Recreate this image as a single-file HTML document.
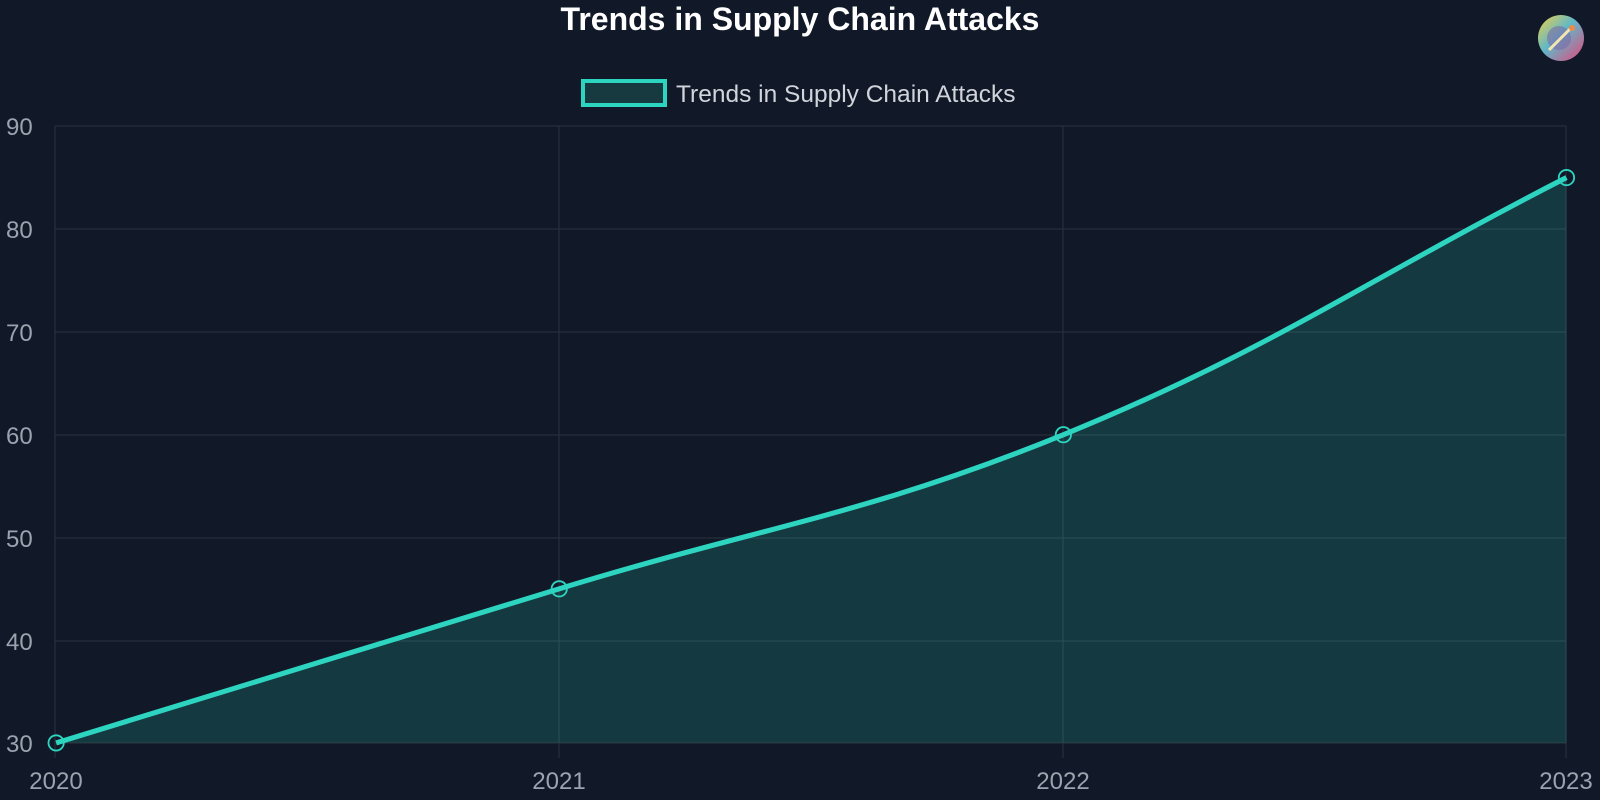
<!DOCTYPE html>
<html><head><style>
html,body{margin:0;padding:0;background:#111827;}
svg{display:block;font-family:"Liberation Sans",sans-serif;}
</style></head><body>
<svg width="1600" height="800" viewBox="0 0 1600 800">
<defs>
<linearGradient id="g" x1="0" y1="0" x2="1" y2="1">
<stop offset="0" stop-color="#f5d142"/><stop offset="0.45" stop-color="#5fb8c9"/><stop offset="1" stop-color="#e8457a"/>
</linearGradient>
</defs>
<rect width="1600" height="800" fill="#111827"/>
<text x="800" y="30" fill="#fff" font-size="32" font-weight="bold" text-anchor="middle">Trends in Supply Chain Attacks</text>
<circle cx="1561" cy="38" r="23" fill="url(#g)"/>
<circle cx="1559" cy="38" r="12" fill="#7a6aa8" opacity="0.6"/>
<line x1="1549" y1="50" x2="1571" y2="28" stroke="#f3e6b0" stroke-width="3"/>
<circle cx="1572" cy="28" r="3" fill="#f08a4a"/>
<rect x="583" y="81" width="82" height="24" fill="#163a40" stroke="#2dd4bf" stroke-width="4"/>
<text x="676" y="102" fill="#d1d5db" font-size="24.5">Trends in Supply Chain Attacks</text>
<g stroke="#2a3340" stroke-width="1">
<line x1="55" y1="126" x2="1566" y2="126"/><line x1="55" y1="229" x2="1566" y2="229"/>
<line x1="55" y1="332" x2="1566" y2="332"/><line x1="55" y1="435" x2="1566" y2="435"/>
<line x1="55" y1="538" x2="1566" y2="538"/><line x1="55" y1="641" x2="1566" y2="641"/>
<line x1="55" y1="743" x2="1566" y2="743"/>
<line x1="55" y1="126" x2="55" y2="758"/><line x1="559" y1="126" x2="559" y2="758"/>
<line x1="1063" y1="126" x2="1063" y2="758"/><line x1="1566" y1="126" x2="1566" y2="758"/>
</g>
<g transform="scale(1.0205,1.0205)">
<path d="M55,728 C252.2,667.6 350.8,637.3 548,577 C745.6,516.5 851.4,503.8 1042,426 C1246.2,342.6 1337.8,274.8 1535,174 L1535,728 Z" fill="#2dd4bf" fill-opacity="0.18"/>
<path d="M55,728 C252.2,667.6 350.8,637.3 548,577 C745.6,516.5 851.4,503.8 1042,426 C1246.2,342.6 1337.8,274.8 1535,174" fill="none" stroke="#2dd4bf" stroke-width="5"/>
<g fill="none" stroke="#2dd4bf" stroke-width="1.8">
<circle cx="55" cy="728" r="7.5"/><circle cx="548" cy="577" r="7.5"/><circle cx="1042" cy="426" r="7.5"/><circle cx="1535" cy="174" r="7.5"/>
</g>
</g>
<g fill="#9ca3af" font-size="24">
<text x="6" y="135">90</text><text x="6" y="238">80</text><text x="6" y="341">70</text>
<text x="6" y="444">60</text><text x="6" y="547">50</text><text x="6" y="650">40</text><text x="6" y="752">30</text>
<g text-anchor="middle"><text x="56" y="789">2020</text><text x="559" y="789">2021</text><text x="1063" y="789">2022</text><text x="1566" y="789">2023</text></g>
</g>
</svg>
</body></html>
